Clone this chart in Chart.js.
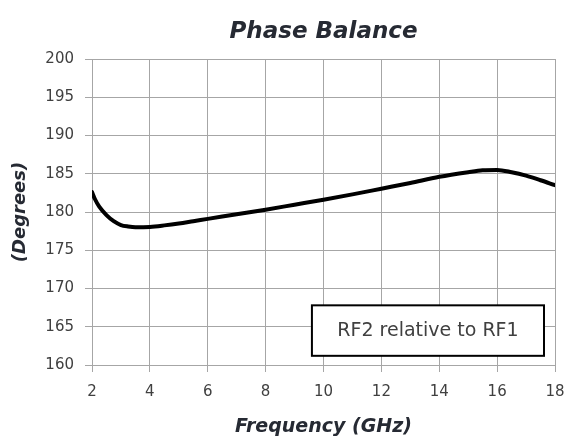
<!DOCTYPE html>
<html>
<head>
<meta charset="utf-8">
<script src="https://cdn.jsdelivr.net/npm/chart.js@4.4.1/dist/chart.umd.min.js"></script>
<style>
  html, body { margin: 0; padding: 0; background: #fff; }
  #wrap { width: 568px; height: 443px; }
</style>
</head>
<body>
<div id="wrap"><canvas id="c" width="568" height="443"></canvas></div>
<script>
const frequencyGHz = [2, 2.1, 2.25, 2.5, 2.75, 3, 3.25, 3.5, 4, 4.5, 5, 5.5, 6, 7, 8, 9, 10, 11, 12, 13, 14, 15, 15.5, 16, 16.5, 17, 17.5, 18];
const phaseBalanceDeg = [182.6, 181.7, 180.7, 179.6, 178.8, 178.3, 178.1, 178.0, 178.05, 178.25, 178.5, 178.8, 179.1, 179.7, 180.3, 180.95, 181.6, 182.3, 183.05, 183.8, 184.6, 185.2, 185.45, 185.5, 185.2, 184.75, 184.15, 183.5];
const xTicks = [2, 4, 6, 8, 10, 12, 14, 16, 18];
const yTicks = [160, 165, 170, 175, 180, 185, 190, 195, 200];
const chartTitle = 'Phase Balance';
const xTitle = 'Frequency (GHz)';
const yTitle = '(Degrees)';
const noteText = 'RF2 relative to RF1';
const noteBox = { x0: 9.6, x1: 17.62, y0: 161.2, y1: 167.8 };

const FONT = "'DejaVu Sans', sans-serif";
const TEXT = '#404040';
const TITLE = '#262a33';
const GRID = '#a6a6a6';

const overlay = {
  id: 'overlay',
  afterDraw(chart) {
    const ctx = chart.ctx, xs = chart.scales.x, ys = chart.scales.y, ca = chart.chartArea;
    ctx.save();
    ctx.fillStyle = TITLE;
    ctx.font = "italic bold 23px " + FONT;
    ctx.textAlign = 'center';
    ctx.textBaseline = 'middle';
    ctx.fillText(chartTitle, (ca.left + ca.right) / 2, 32);
    const l = xs.getPixelForValue(noteBox.x0), r = xs.getPixelForValue(noteBox.x1);
    const t = ys.getPixelForValue(noteBox.y1), b = ys.getPixelForValue(noteBox.y0);
    ctx.fillStyle = '#ffffff';
    ctx.fillRect(l, t, r - l, b - t);
    ctx.strokeStyle = '#000000';
    ctx.lineWidth = 2;
    ctx.strokeRect(l, t, r - l, b - t);
    ctx.fillStyle = TEXT;
    ctx.font = "19px " + FONT;
    ctx.fillText(noteText, (l + r) / 2, (t + b) / 2);
    ctx.restore();
  }
};

new Chart(document.getElementById('c'), {
  type: 'line',
  data: {
    datasets: [{
      data: frequencyGHz.map((f, i) => ({ x: f, y: phaseBalanceDeg[i] })),
      borderColor: '#000000',
      borderWidth: 4,
      pointRadius: 0,
      fill: false,
      cubicInterpolationMode: 'monotone',
      borderCapStyle: 'round'
    }]
  },
  options: {
    responsive: false,
    animation: false,
    events: [],
    layout: { padding: { top: 59, right: 13, left: 0, bottom: 0 } },
    plugins: { legend: { display: false }, tooltip: { enabled: false }, title: { display: false } },
    scales: {
      x: {
        type: 'linear',
        min: 2, max: 18,
        afterBuildTicks(s) { s.ticks = xTicks.map(v => ({ value: v })); },
        afterFit(s) { s.height = 78; s.paddingLeft = 0; s.paddingRight = 0; },
        grid: { color: GRID, lineWidth: 1, tickLength: 7, drawTicks: true },
        border: { color: GRID, width: 1 },
        ticks: { color: TEXT, font: { family: FONT, size: 15 }, padding: 11, maxRotation: 0, autoSkip: false },
        title: { display: true, text: xTitle, color: TITLE, font: { family: FONT, size: 19, weight: 'bold', style: 'italic' }, padding: { top: 4, bottom: 5 } }
      },
      y: {
        min: 160, max: 200,
        afterBuildTicks(s) { s.ticks = yTicks.map(v => ({ value: v })); },
        afterFit(s) { s.width = 92; s.paddingTop = 0; s.paddingBottom = 0; },
        grid: { color: GRID, lineWidth: 1, tickLength: 7, drawTicks: true },
        border: { color: GRID, width: 1 },
        ticks: { color: TEXT, font: { family: FONT, size: 15 }, padding: 11, autoSkip: false },
        title: { display: true, text: yTitle, color: TITLE, font: { family: FONT, size: 18, weight: 'bold', style: 'italic' }, padding: { top: 10, bottom: 0 } }
      }
    }
  },
  plugins: [overlay]
});
</script>
</body>
</html>
